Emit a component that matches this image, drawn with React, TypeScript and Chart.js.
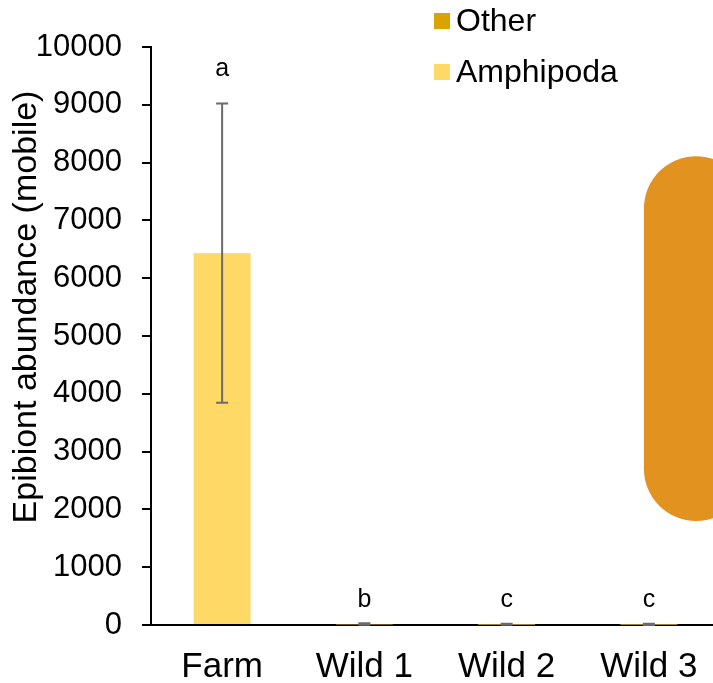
import { useEffect, useRef } from 'react';
import { Chart, registerables } from 'chart.js';

Chart.register(...registerables);

const CATEGORIES = ['Farm', 'Wild 1', 'Wild 2', 'Wild 3'];
const AMPHIPODA = [6430, 14, 10, 8];
const OTHER = [4, 4, 3, 3];
const TOTAL_ERROR = [2590, 14, 10, 10];
const LETTERS = ['a', 'b', 'c', 'c'];
const LETTER_VALUES = [9620, 430, 430, 430];
const Y_TICKS = [0, 1000, 2000, 3000, 4000, 5000, 6000, 7000, 8000, 9000, 10000];
const Y_TITLE = 'Epibiont abundance (mobile)';
// rounded orange shape (value range on y, category-index range on x)
const SHAPE_Y = [1800, 8110];
const SHAPE_X = [2.965, 3.7];

const COLOR_AMPHIPODA = '#FFD966';
const COLOR_OTHER = '#D9A300';
const COLOR_SHAPE = '#E2931F';
const FONT = '"Liberation Sans", Arial, sans-serif';

const overlayPlugin = {
  id: 'overlay',
  afterDatasetsDraw(chart: any) {
    const { ctx } = chart;
    const x = chart.scales.x;
    const y = chart.scales.y;
    // shape
    const sx0 = x.getPixelForValue(SHAPE_X[0]);
    const sx1 = x.getPixelForValue(SHAPE_X[1]);
    const sy0 = y.getPixelForValue(SHAPE_Y[1]);
    const sy1 = y.getPixelForValue(SHAPE_Y[0]);
    ctx.save();
    ctx.fillStyle = COLOR_SHAPE;
    ctx.beginPath();
    (ctx as any).roundRect(sx0, sy0, sx1 - sx0, sy1 - sy0, 68);
    ctx.fill();
    ctx.restore();

    // error bars
    const meta = chart.getDatasetMeta(1);
    ctx.save();
    ctx.strokeStyle = '#6b6b6b';
    ctx.lineWidth = 2;
    for (let i = 0; i < CATEGORIES.length; i++) {
      const el = meta.data[i];
      if (!el) continue;
      const total = AMPHIPODA[i] + OTHER[i];
      const xc = el.x;
      const yt = y.getPixelForValue(total + TOTAL_ERROR[i]);
      const yb = y.getPixelForValue(Math.max(0, total - TOTAL_ERROR[i]));
      ctx.beginPath();
      ctx.moveTo(xc, yt);
      ctx.lineTo(xc, yb);
      ctx.moveTo(xc - 6, yt);
      ctx.lineTo(xc + 6, yt);
      ctx.moveTo(xc - 6, yb);
      ctx.lineTo(xc + 6, yb);
      ctx.stroke();
    }
    ctx.restore();

    // letters
    ctx.save();
    ctx.fillStyle = '#000';
    ctx.font = `25px ${FONT}`;
    ctx.textAlign = 'center';
    ctx.textBaseline = 'middle';
    for (let i = 0; i < CATEGORIES.length; i++) {
      const el = meta.data[i];
      ctx.fillText(LETTERS[i], el.x, y.getPixelForValue(LETTER_VALUES[i]));
    }
    ctx.restore();
  },
  afterDraw(chart: any) {
    const { ctx } = chart;
    // y axis title
    ctx.save();
    ctx.translate(27, 307);
    ctx.rotate(-Math.PI / 2);
    ctx.font = `34px ${FONT}`;
    ctx.fillStyle = '#000';
    ctx.textAlign = 'center';
    ctx.textBaseline = 'middle';
    ctx.fillText(Y_TITLE, 0, 0);
    ctx.restore();

    // legend
    const items = [
      { label: chart.data.datasets[1].label, color: chart.data.datasets[1].backgroundColor },
      { label: chart.data.datasets[0].label, color: chart.data.datasets[0].backgroundColor },
    ];
    ctx.save();
    ctx.font = `32px ${FONT}`;
    ctx.textBaseline = 'middle';
    ctx.textAlign = 'left';
    items.forEach((it, k) => {
      const cy = 21 + k * 51;
      ctx.fillStyle = it.color;
      ctx.fillRect(434, cy - 8, 16, 16);
      ctx.fillStyle = '#000';
      ctx.fillText(it.label, 456, cy + 1);
    });
    ctx.restore();
  },
};

export default function App() {
  const ref = useRef<HTMLCanvasElement | null>(null);
  useEffect(() => {
    document.body.style.margin = '0';
    document.body.style.overflow = 'hidden';
    document.documentElement.style.overflow = 'hidden';
    if (!ref.current) return;
    const chart = new Chart(ref.current, {
      type: 'bar',
      data: {
        labels: CATEGORIES,
        datasets: [
          {
            label: 'Amphipoda',
            data: AMPHIPODA,
            backgroundColor: COLOR_AMPHIPODA,
            barPercentage: 0.4,
            categoryPercentage: 1,
          },
          {
            label: 'Other',
            data: OTHER,
            backgroundColor: COLOR_OTHER,
            barPercentage: 0.4,
            categoryPercentage: 1,
          },
        ],
      },
      options: {
        animation: false,
        responsive: false,
        layout: { padding: { top: 47, right: 10, left: 0, bottom: 0 } },
        plugins: {
          legend: { display: false },
          tooltip: { enabled: false },
        },
        scales: {
          x: {
            stacked: true,
            grid: { display: false, drawTicks: false },
            border: { display: true, color: '#000', width: 2 },
            ticks: {
              color: '#000',
              font: { family: FONT, size: 35 },
              padding: 21,
            },
            afterFit(scale: any) {
              scale.height = 58;
            },
          },
          y: {
            stacked: true,
            min: 0,
            max: 10000,
            afterBuildTicks(scale: any) {
              scale.ticks = Y_TICKS.map((v) => ({ value: v }));
            },
            grid: {
              drawOnChartArea: false,
              drawTicks: true,
              tickLength: 9,
              color: '#000',
              lineWidth: 2,
            },
            border: { display: true, color: '#000', width: 2 },
            ticks: {
              color: '#000',
              font: { family: FONT, size: 31 },
              padding: 20,
              callback: (v: any) => String(v),
            },
            title: { display: false },
            afterFit(scale: any) {
              scale.width = 151;
            },
          },
        },
      },
      plugins: [overlayPlugin],
    });
    return () => chart.destroy();
  }, []);
  return (
    <div style={{ width: 730, height: 683, overflow: 'hidden' }}>
      <canvas ref={ref} width={730} height={683} style={{ display: 'block' }} />
    </div>
  );
}
